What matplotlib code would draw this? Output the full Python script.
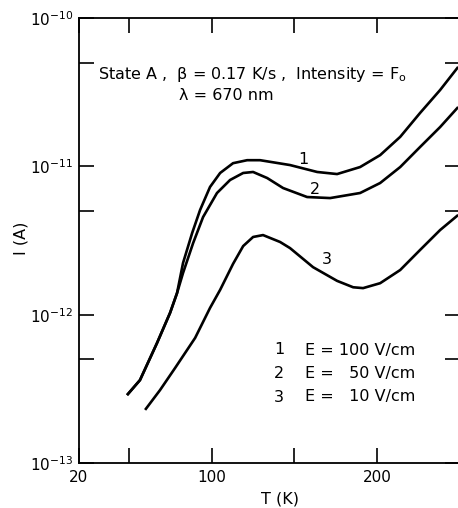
import matplotlib
matplotlib.use("Agg")
import matplotlib.pyplot as plt
from matplotlib.ticker import FixedLocator, NullFormatter, LogFormatterSciNotation

# Data (T in K, I in A)
t1 = [49.0, 56.8, 67.1, 75.0, 79.2, 82.8, 88.3, 93.1, 99.1, 105.2, 113.0, 121.5, 129.3,
      147.4, 163.8, 175.8, 189.7, 201.8, 213.9, 225.9, 238.0, 248.9]
i1 = [2.87e-13, 3.62e-13, 6.44e-13, 1.03e-12, 1.40e-12, 2.23e-12, 3.55e-12, 5.08e-12,
      7.26e-12, 9.02e-12, 1.05e-11, 1.10e-11, 1.10e-11, 1.02e-11, 9.16e-12, 8.87e-12,
      9.89e-12, 1.19e-11, 1.58e-11, 2.29e-11, 3.27e-11, 4.68e-11]

t2 = [49.0, 56.8, 67.1, 75.0, 79.2, 82.8, 88.9, 94.9, 103.3, 111.2, 119.1, 125.1, 133.6,
      143.2, 157.7, 171.6, 189.7, 201.8, 213.9, 225.9, 238.0, 248.9]
i2 = [2.87e-13, 3.62e-13, 6.44e-13, 1.03e-12, 1.40e-12, 1.91e-12, 3.04e-12, 4.55e-12,
      6.61e-12, 8.09e-12, 9.02e-12, 9.16e-12, 8.34e-12, 7.14e-12, 6.21e-12, 6.11e-12,
      6.61e-12, 7.72e-12, 9.89e-12, 1.35e-11, 1.84e-11, 2.51e-11]

t3 = [59.9, 68.9, 78.0, 90.1, 99.1, 105.2, 113.0, 119.1, 125.1, 131.1, 141.4, 147.4,
      161.3, 175.8, 185.5, 191.5, 201.8, 213.9, 225.9, 238.0, 248.9]
i3 = [2.28e-13, 3.10e-13, 4.37e-13, 6.97e-13, 1.11e-12, 1.47e-12, 2.20e-12, 2.90e-12,
      3.34e-12, 3.44e-12, 3.09e-12, 2.81e-12, 2.09e-12, 1.69e-12, 1.53e-12, 1.51e-12,
      1.63e-12, 2.00e-12, 2.73e-12, 3.72e-12, 4.70e-12]

curve_labels = ["1", "2", "3"]
label_pos_t = [155.3, 162.5, 169.8]
label_pos_i = [1.12e-11, 7.0e-12, 2.37e-12]

legend_nums = ["1", "2", "3"]
legend_texts = ["E = 100 V/cm", "E =   50 V/cm", "E =   10 V/cm"]

x_major = [20, 50, 100, 150, 200, 250]
x_ticklabels = ["20", "", "100", "", "200", ""]

W, H = 458, 508
fig = plt.figure(figsize=(W / 100, H / 100), dpi=100)
left, right, top, bottom = 79, 460, 18, 463
ax = fig.add_axes([left / W, (H - bottom) / H, (right - left) / W, (bottom - top) / H])

for t, i in [(t1, i1), (t2, i2), (t3, i3)]:
    ax.plot(t, i, color="black", lw=1.9, solid_capstyle="butt", solid_joinstyle="round")

for lab, tx, iy in zip(curve_labels, label_pos_t, label_pos_i):
    ax.text(tx, iy, lab, fontsize=11.5, ha="center", va="center")

ax.set_yscale("log")
ax.set_xlim(20, 250)
ax.set_ylim(1e-13, 1e-10)

ax.xaxis.set_major_locator(FixedLocator(x_major))
ax.set_xticklabels(x_ticklabels)
ax.yaxis.set_major_locator(FixedLocator([1e-13, 1e-12, 1e-11, 1e-10]))
ax.yaxis.set_major_formatter(LogFormatterSciNotation())
ax.yaxis.set_minor_locator(FixedLocator([5e-13, 5e-12, 5e-11]))
ax.yaxis.set_minor_formatter(NullFormatter())

ax.tick_params(which="both", direction="in", top=True, right=True, length=11, width=1.2,
               labelsize=11, colors="black")
ax.tick_params(axis="x", pad=5)
ax.tick_params(axis="y", pad=4)
for s in ax.spines.values():
    s.set_linewidth(1.3)

fig.text(280 / W, 1 - 499 / H, "T (K)", fontsize=11.5, ha="center", va="center")
fig.text(21 / W, 1 - 238 / H, "I (A)", fontsize=11.5, ha="center", va="center",
         rotation=90)

fig.text(98 / W, 1 - 75 / H, "State A ,  β = 0.17 K/s ,  Intensity = F$_\\mathregular{o}$",
         fontsize=11.5, ha="left", va="center")
fig.text(226 / W, 1 - 96 / H, "λ = 670 nm", fontsize=11.5, ha="center", va="center")

for k, (n, txt) in enumerate(zip(legend_nums, legend_texts)):
    y = 1 - (350 + 23.5 * k) / H
    fig.text(279 / W, y, n, fontsize=11.5, ha="center", va="center")
    fig.text(305 / W, y, txt, fontsize=11.5, ha="left", va="center")

fig.savefig("out.png", dpi=100)
